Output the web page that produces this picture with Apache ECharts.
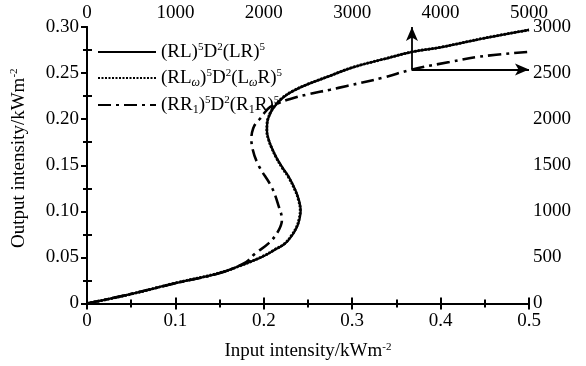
<!DOCTYPE html>
<html><head><meta charset="utf-8">
<script src="https://cdn.jsdelivr.net/npm/echarts@6/dist/echarts.min.js"></script>
<style>html,body{margin:0;padding:0;background:#fff}#c{width:586px;height:366px}</style>
</head><body><div id="c"></div>
<script>
// Series names
const seriesNames = ['(RL)5D2(LR)5', '(RLw)5D2(LwR)5', '(RR1)5D2(R1R)5'];
// Solid curve: [input kW/m2, output kW/m2]
const solidData = [[0,0],[0.048,0.01],[0.1,0.022],[0.15,0.033],[0.173,0.041],[0.199,0.051],[0.212,0.058],[0.224,0.065],[0.232,0.074],[0.2375,0.083],[0.2405,0.092],[0.2417,0.101],[0.2398,0.112],[0.2358,0.123],[0.2285,0.137],[0.2215,0.147],[0.2145,0.158],[0.209,0.169],[0.2055,0.178],[0.2036,0.187],[0.2038,0.195],[0.205,0.2007],[0.21,0.211],[0.22,0.222],[0.232,0.23],[0.25,0.238],[0.275,0.247],[0.30,0.256],[0.335,0.265],[0.368,0.273],[0.40,0.278],[0.45,0.288],[0.5,0.297]];
// Dotted curve (nearly coincides with the solid one)
const dottedData = [[0,0],[0.049,0.01],[0.1,0.0222],[0.15,0.0332],[0.174,0.0412],[0.199,0.0512],[0.2115,0.058],[0.2235,0.065],[0.2315,0.074],[0.237,0.083],[0.24,0.092],[0.2412,0.101],[0.2393,0.112],[0.2353,0.123],[0.228,0.137],[0.221,0.147],[0.2142,0.158],[0.2088,0.169],[0.2053,0.178],[0.2034,0.187],[0.2036,0.195],[0.2048,0.2007],[0.2098,0.211],[0.2198,0.222],[0.2318,0.23],[0.2498,0.238],[0.2748,0.247],[0.2998,0.256],[0.3348,0.265],[0.3678,0.273],[0.3998,0.278],[0.4498,0.288],[0.5,0.2968]];
// Dash-dot curve, read on the top / right axes (W/m2)
const dashDotData = [[0,0],[480,100],[1000,220],[1500,330],[1800,450],[1900,540],[2050,650],[2160,780],[2205,910],[2170,1050],[2090,1260],[1940,1500],[1870,1690],[1860,1800],[1880,1900],[1920,1970],[1960,2007],[2000,2060],[2070,2130],[2180,2180],[2300,2220],[2500,2270],[2750,2320],[2940,2360],[3350,2450],[3680,2540],[4100,2620],[4450,2680],[5000,2730]];
// Arrow coordinates (top / right axes)
const arrowStart = [3676, 2540];
const arrowUpEnd = [3676, 3000];
const arrowRightEnd = [5000, 2540];
// Tick ranges
const xBottom = {min: 0, max: 0.5, interval: 0.1};
const yLeft = {min: 0, max: 0.30, interval: 0.05};
const xTop = {min: 0, max: 5000, interval: 1000};
const yRight = {min: 0, max: 3000, interval: 500};

const FONT = 'Liberation Serif';
const chart = echarts.init(document.getElementById('c'));
const axisLine = {show: true, lineStyle: {color: '#000', width: 2}};
const lbl = {color: '#000', fontFamily: FONT, fontSize: 19};
const legendRich = {
  t: {fontFamily: FONT, fontSize: 19, color: '#000'},
  s: {fontFamily: FONT, fontSize: 11, color: '#000', verticalAlign: 'top', padding: [0,0,9,0]},
  b: {fontFamily: FONT, fontSize: 12, color: '#000', fontStyle: 'italic', padding: [9,0,0,0]},
  c: {fontFamily: FONT, fontSize: 12, color: '#000', padding: [9,0,0,0]}
};
const legendFmt = {
  '(RL)5D2(LR)5': '{t|(RL)}{s|5}{t|D}{s|2}{t|(LR)}{s|5}',
  '(RLw)5D2(LwR)5': '{t|(RL}{b|ω}{t|)}{s|5}{t|D}{s|2}{t|(L}{b|ω}{t|R)}{s|5}',
  '(RR1)5D2(R1R)5': '{t|(RR}{c|1}{t|)}{s|5}{t|D}{s|2}{t|(R}{c|1}{t|R)}{s|5}'
};
const nameRich = {a: {fontFamily: FONT, fontSize: 19, color: '#000'}, s: {fontFamily: FONT, fontSize: 11, color: '#000', verticalAlign: 'top', padding: [0,0,9,0]}};
chart.setOption({
  animation: false,
  backgroundColor: '#fff',
  grid: {left: 87, right: 57, top: 27, bottom: 58},
  legend: {
    orient: 'vertical', left: 92, top: 37, itemWidth: 58, itemHeight: 12, itemGap: 6,
    data: seriesNames,
    itemStyle: {opacity: 0},
    formatter: n => legendFmt[n],
    textStyle: {rich: legendRich}
  },
  xAxis: [
    {type: 'value', position: 'bottom', min: xBottom.min, max: xBottom.max, interval: xBottom.interval,
     axisLine, splitLine: {show: false},
     axisTick: {inside: true, length: 6, lineStyle: {color: '#000', width: 2}},
     minorTick: {show: true, splitNumber: 2, length: 4, lineStyle: {color: '#000', width: 2}},
     axisLabel: Object.assign({margin: 8, formatter: v => v === 0 ? '0' : String(+v.toFixed(1))}, lbl),
     name: '{a|Input intensity/kWm}{s|-2}', nameLocation: 'middle', nameGap: 38,
     nameTextStyle: {rich: nameRich}},
    {type: 'value', position: 'top', min: xTop.min, max: xTop.max, interval: xTop.interval,
     axisLine, splitLine: {show: false},
     axisTick: {inside: true, length: 6, lineStyle: {color: '#000', width: 2}},
     minorTick: {show: true, splitNumber: 2, length: 4, lineStyle: {color: '#000', width: 2}},
     axisLabel: Object.assign({margin: 4, formatter: v => String(v)}, lbl)}
  ],
  yAxis: [
    {type: 'value', position: 'left', min: yLeft.min, max: yLeft.max, interval: yLeft.interval,
     axisLine, splitLine: {show: false},
     axisTick: {inside: false, length: 6, lineStyle: {color: '#000', width: 2}},
     minorTick: {show: false},
     axisLabel: Object.assign({margin: 8, formatter: v => v === 0 ? '0' : v.toFixed(2)}, lbl),
     name: '{a|Output intensity/kWm}{s|-2}', nameLocation: 'middle', nameGap: 58, nameRotate: 90,
     nameTextStyle: {rich: nameRich, padding: [0, 0, 0, 14]}},
    {type: 'value', position: 'right', min: yRight.min, max: yRight.max, interval: yRight.interval,
     axisLine, splitLine: {show: false},
     axisTick: {inside: true, length: 6, lineStyle: {color: '#000', width: 2}},
     minorTick: {show: true, splitNumber: 2, length: 4, lineStyle: {color: '#000', width: 2}},
     axisLabel: Object.assign({margin: 4, formatter: v => String(v)}, lbl)},
    {type: 'value', position: 'left', offset: 0, min: yLeft.min, max: yLeft.max, interval: yLeft.interval,
     axisLine: {show: false}, splitLine: {show: false}, axisLabel: {show: false},
     axisTick: {show: false, inside: true},
     minorTick: {show: true, splitNumber: 2, length: 5, lineStyle: {color: '#000', width: 2}}}
  ],
  series: [
    {name: seriesNames[1], type: 'line', xAxisIndex: 0, yAxisIndex: 0, data: dottedData, smooth: 0.4,
     showSymbol: false, symbol: 'none', lineStyle: {color: '#000', width: 2.8, type: [2, 1.5]}, itemStyle: {color: '#000'}, z: 2},
    {name: seriesNames[0], type: 'line', xAxisIndex: 0, yAxisIndex: 0, data: solidData, smooth: 0.4,
     showSymbol: false, symbol: 'none', lineStyle: {color: '#000', width: 2.3}, itemStyle: {color: '#000'}, z: 3},
    {name: seriesNames[2], type: 'line', xAxisIndex: 1, yAxisIndex: 1, data: dashDotData, smooth: 0.4,
     showSymbol: false, symbol: 'none', lineStyle: {color: '#000', width: 2.6, type: [13, 5, 3, 5]}, itemStyle: {color: '#000'}, z: 3,
     markLine: {silent: true, symbol: ['none', 'arrow'], symbolSize: [9, 14], label: {show: false},
       lineStyle: {color: '#000', width: 1.8, type: 'solid'}, emphasis: {disabled: true},
       data: [[{coord: arrowStart}, {coord: arrowUpEnd}], [{coord: arrowStart}, {coord: arrowRightEnd}]]}}
  ]
});
</script></body></html>
